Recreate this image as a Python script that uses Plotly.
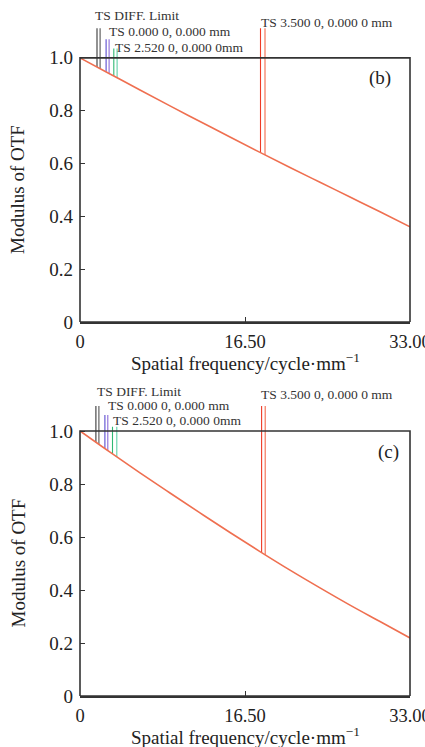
import numpy as np
import plotly.graph_objects as go

# ---------------- data ----------------
freq = [0, 3, 6, 9, 12, 15, 18, 21, 24, 27, 30, 33]
mtf_b = [1.000, 0.939, 0.878, 0.818, 0.759, 0.700, 0.642, 0.585, 0.529, 0.473, 0.417, 0.360]
mtf_c = [1.000, 0.920, 0.842, 0.766, 0.691, 0.617, 0.545, 0.475, 0.408, 0.343, 0.281, 0.219]

x_ticks = [0, 16.5, 33]
x_ticktext = ["0", "16.50", "33.00"]
y_ticks = [0, 0.2, 0.4, 0.6, 0.8, 1.0]
y_ticktext = ["0", "0.2", "0.4", "0.6", "0.8", "1.0"]

labels = ["TS DIFF. Limit", "TS 0.000 0, 0.000 mm", "TS 2.520 0, 0.000 0mm", "TS 3.500 0, 0.000 0 mm"]
# label anchor positions (data units) for panels b and c
label_x_b = [1.30, 2.68, 3.28, 17.85]
label_y_b = [1.159, 1.098, 1.038, 1.133]
label_x_c = [1.46, 2.62, 3.11, 17.93]
label_y_c = [1.148, 1.098, 1.038, 1.136]

# leader lines (two per series: T and S)
leader_x_b = [[1.70, 2.01], [2.61, 2.91], [3.38, 3.71], [18.05, 18.50]]
leader_top_b = [1.112, 1.070, 1.035, 1.112]
leader_x_c = [[1.59, 1.89], [2.49, 2.78], [3.25, 3.68], [18.16, 18.52]]
leader_top_c = [1.094, 1.060, 1.016, 1.094]
leader_colors = [["#3a3a3a", "#555555"], ["#5a4ccf", "#8a6ad8"], ["#2fb873", "#5fd0a8"], ["#ee3a26", "#f36a4c"]]

curve_color = "#ef6f50"
frame_color = "#333333"
text_color = "#222222"
FONT = "Liberation Serif"

W, H = 425, 747
ml, mr, mt, mb = 80, 15, 5, 51
plot_h = H - mt - mb
top_dom = [(696 - 322) / plot_h, 1.0]
bot_dom = [0.0, (696 - 378) / plot_h]

fig = go.Figure()

panels = [
    ("x", "y", mtf_b, leader_x_b, leader_top_b, label_x_b, label_y_b, "(b)", 30.0, 0.924),
    ("x2", "y2", mtf_c, leader_x_c, leader_top_c, label_x_c, label_y_c, "(c)", 30.8, 0.921),
]

annotations = []
shapes = []
for xa, ya, mtf, lx, ltop, tx, ty, tag, tagx, tagy in panels:
    # leader lines
    for i in range(4):
        for j in range(2):
            xv = lx[i][j]
            yb = float(np.interp(xv, freq, mtf))
            fig.add_trace(go.Scatter(
                x=[xv, xv], y=[yb, ltop[i]], mode="lines",
                line=dict(color=leader_colors[i][j], width=1.1),
                xaxis=xa, yaxis=ya, showlegend=False, hoverinfo="skip"))
    # MTF curve
    fig.add_trace(go.Scatter(
        x=freq, y=mtf, mode="lines", line=dict(color=curve_color, width=1.6, shape="spline"),
        xaxis=xa, yaxis=ya, showlegend=False))
    # frame (box from y=0 to y=1.0 spanning full x domain)
    shapes.append(dict(type="rect", xref="paper", yref=ya, x0=0, x1=1, y0=0, y1=1.0,
                       line=dict(color=frame_color, width=1.6), layer="above"))
    # labels
    for i in range(4):
        annotations.append(dict(xref=xa, yref=ya, x=tx[i], y=ty[i], text=labels[i],
                                showarrow=False, xanchor="left", yanchor="middle",
                                font=dict(family=FONT, size=13.5, color="#333333")))
    annotations.append(dict(xref=xa, yref=ya, x=tagx, y=tagy, text=tag, showarrow=False,
                            xanchor="center", yanchor="middle",
                            font=dict(family=FONT, size=19, color=text_color)))
    # y title
    annotations.append(dict(xref="paper", yref=ya, x=(18 - ml) / (W - ml - mr), y=0.5,
                            text="Modulus of OTF", textangle=-90, showarrow=False,
                            xanchor="center", yanchor="middle",
                            font=dict(family=FONT, size=19, color=text_color)))

# x titles
xt = "Spatial frequency/cycle·mm<sup>−1</sup>"
annotations.append(dict(xref="x", yref="paper", x=16.5, y=(696 - 362) / plot_h, text=xt,
                        showarrow=False, xanchor="center", yanchor="middle",
                        font=dict(family=FONT, size=19, color=text_color)))
annotations.append(dict(xref="x2", yref="paper", x=16.5, y=(696 - 736) / plot_h, text=xt,
                        showarrow=False, xanchor="center", yanchor="middle",
                        font=dict(family=FONT, size=19, color=text_color)))

xaxis_common = dict(range=[0, 33], tickvals=x_ticks, ticktext=x_ticktext, ticks="inside",
                    ticklen=5, tickwidth=1.3, tickcolor=frame_color,
                    showline=True, linecolor=frame_color, linewidth=1.6,
                    showgrid=False, zeroline=False, ticklabelstandoff=2, automargin=False,
                    ticklabeloverflow="allow",
                    tickfont=dict(family=FONT, size=18.5, color=text_color))
yaxis_common = dict(range=[0, 1.2], tickvals=y_ticks, ticktext=y_ticktext, ticks="inside",
                    ticklen=5, tickwidth=1.3, tickcolor=frame_color, showline=False,
                    showgrid=False, zeroline=False, ticklabelstandoff=6, automargin=False,
                    ticklabeloverflow="allow",
                    tickfont=dict(family=FONT, size=19, color=text_color))

fig.update_layout(
    width=W, height=H,
    margin=dict(l=ml, r=mr, t=mt, b=mb),
    paper_bgcolor="white", plot_bgcolor="white",
    xaxis=dict(domain=[0, 1], anchor="y", **xaxis_common),
    yaxis=dict(domain=top_dom, anchor="x", **yaxis_common),
    xaxis2=dict(domain=[0, 1], anchor="y2", **xaxis_common),
    yaxis2=dict(domain=bot_dom, anchor="x2", **yaxis_common),
    annotations=annotations,
    shapes=shapes,
    showlegend=False,
)

fig.write_html("out.html", config={"displayModeBar": False},
               post_script="document.body.style.margin='0px';document.body.style.overflow='hidden';")
